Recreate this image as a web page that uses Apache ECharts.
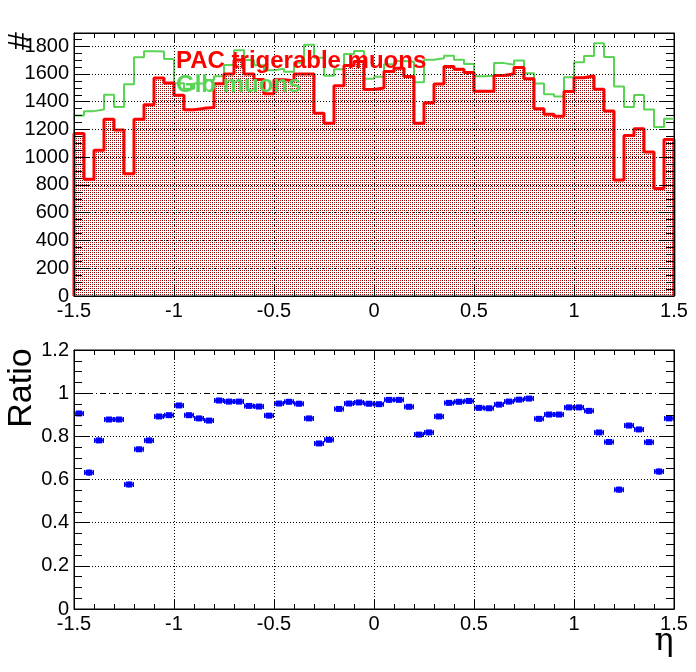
<!DOCTYPE html>
<html><head><meta charset="utf-8">
<script src="https://cdn.jsdelivr.net/npm/echarts@6/dist/echarts.min.js"></script>
<style>html,body{margin:0;padding:0;background:#fff}#c{width:696px;height:672px}</style>
</head><body><div id="c"></div>
<script>
// ---- data ----
const etaRange = [-1.5, 1.5];
const nBins = 60;
const glbMuons = [1300,1332,1344,1450,1362,1525,1720,1764,1761,1708,
                  1533,1494,1531,1557,1584,1665,1770,1700,1663,1626,
                  1638,1616,1681,1811,1717,1587,1634,1744,1766,1565,
                  1580,1670,1693,1688,1540,1703,1713,1731,1702,1671,
                  1584,1587,1678,1666,1697,1605,1532,1454,1437,1577,
                  1684,1729,1822,1722,1510,1361,1448,1343,1217,1277];
const pacMuons = [1170,842,1050,1273,1196,880,1273,1378,1571,1534,
                  1446,1342,1352,1359,1530,1600,1700,1600,1560,1457,
                  1559,1551,1599,1599,1317,1244,1515,1660,1690,1488,
                  1499,1618,1641,1582,1244,1393,1528,1653,1634,1611,
                  1476,1476,1589,1601,1646,1565,1350,1310,1295,1473,
                  1573,1587,1490,1333,835,1157,1205,1038,775,1128];
const ratio = [0.906,0.632,0.781,0.878,0.878,0.577,0.740,0.781,0.892,0.898,
               0.943,0.898,0.883,0.873,0.966,0.961,0.961,0.941,0.938,0.896,
               0.952,0.960,0.951,0.883,0.767,0.784,0.927,0.952,0.957,0.951,
               0.949,0.969,0.969,0.937,0.808,0.818,0.892,0.955,0.960,0.964,
               0.932,0.930,0.947,0.961,0.970,0.975,0.881,0.901,0.901,0.934,
               0.934,0.918,0.818,0.774,0.553,0.850,0.832,0.773,0.637,0.883];
const ratioErr = [0.008,0.013,0.011,0.009,0.009,0.013,0.011,0.010,0.007,0.007,
                  0.006,0.008,0.008,0.008,0.005,0.005,0.005,0.006,0.006,0.008,
                  0.005,0.005,0.005,0.008,0.010,0.010,0.006,0.005,0.005,0.006,
                  0.006,0.004,0.004,0.006,0.010,0.009,0.007,0.005,0.005,0.005,
                  0.006,0.006,0.005,0.005,0.004,0.004,0.008,0.008,0.008,0.006,
                  0.006,0.007,0.009,0.010,0.013,0.010,0.010,0.011,0.014,0.009];
const topYMax = 1895;
const ratioGridLines = [0.2, 0.4, 0.6, 0.8];
const legendLabels = ['PAC trigerable muons', 'Glb muons'];

// ---- build ----
const binW = (etaRange[1] - etaRange[0]) / nBins;
const edges = [];
for (let k = 0; k <= nBins; k++) edges.push(+(etaRange[0] + k * binW).toFixed(4));
function stepData(vals, closed) {
  const d = [];
  if (closed) d.push([edges[0], 0]);
  vals.forEach((v, k) => d.push([edges[k], v]));
  d.push([edges[nBins], vals[nBins - 1]]);
  if (closed) d.push([edges[nBins], 0]);
  return d;
}
const ratioData = ratio.map((r, k) => [(edges[k] + edges[k + 1]) / 2, r, ratioErr[k]]);

function makePattern() {
  const c = document.createElement('canvas');
  c.width = 4; c.height = 4;
  const g = c.getContext('2d');
  g.clearRect(0, 0, 4, 4);
  g.fillStyle = '#ff0000';
  g.fillRect(0, 0, 1, 1);
  g.fillRect(2, 2, 1, 1);
  g.fillStyle = '#202020';
  g.fillRect(2, 0, 1, 1);
  g.fillRect(0, 2, 1, 1);
  return c;
}

const FONT = 'Liberation Sans, Arial, Helvetica, sans-serif';
const dotted = { color: '#000', width: 1, type: [1, 2] };
const GRIDS = [
  { left: 74, right: 22, top: 33, height: 263, show: true, borderColor: '#000', borderWidth: 1 },
  { left: 74, right: 22, top: 350, height: 259, show: true, borderColor: '#000', borderWidth: 1 }
];
function xAx(gi, pos, labels, split) {
  return {
    type: 'value', gridIndex: gi, position: pos, min: etaRange[0], max: etaRange[1], interval: 0.5,
    axisLine: { show: true, onZero: false, lineStyle: { color: '#000', width: 1 } },
    axisTick: { show: true, inside: true, length: 9, lineStyle: { color: '#000' } },
    minorTick: { show: true, splitNumber: 5, length: 5, lineStyle: { color: '#000' } },
    axisLabel: { show: labels, color: '#000', fontSize: 20, fontFamily: FONT, margin: 5,
                 formatter: v => String(+v.toFixed(2)) },
    splitLine: { show: split, lineStyle: dotted },
    z: 10
  };
}
function yAx(gi, pos, max, interval, minorN, labels, split, fmt) {
  return {
    type: 'value', gridIndex: gi, position: pos, min: 0, max: max, interval: interval,
    axisLine: { show: true, onZero: false, lineStyle: { color: '#000', width: 1 } },
    axisTick: { show: true, inside: true, length: 15, lineStyle: { color: '#000' } },
    minorTick: { show: true, splitNumber: minorN, length: 8, lineStyle: { color: '#000' } },
    axisLabel: { show: labels, color: '#000', fontSize: 20, fontFamily: FONT, margin: 5, formatter: fmt,
                 showMaxLabel: true },
    splitLine: { show: split, lineStyle: dotted },
    z: 10
  };
}

const chart = echarts.init(document.getElementById('c'), null, { renderer: 'canvas' });
chart.setOption({
  animation: false,
  backgroundColor: '#fff',
  grid: GRIDS,
  xAxis: [xAx(0, 'bottom', true, true), xAx(0, 'top', false, false),
          xAx(1, 'bottom', true, true), xAx(1, 'top', false, false)],
  yAxis: [
    yAx(0, 'left', topYMax, 200, 4, true, true, v => (Math.abs(v % 200) < 1e-6 ? String(v) : '')),
    yAx(0, 'right', topYMax, 200, 4, false, false),
    yAx(1, 'left', 1.2, 0.2, 4, true, false, v => String(+v.toFixed(2))),
    yAx(1, 'right', 1.2, 0.2, 4, false, false)
  ],
  series: [
    {
      type: 'line', name: legendLabels[1], xAxisIndex: 0, yAxisIndex: 0, step: 'end',
      data: stepData(glbMuons, false), symbol: 'none', clip: false,
      lineStyle: { color: '#59d454', width: 2 }
    },
    {
      type: 'line', name: legendLabels[0], xAxisIndex: 0, yAxisIndex: 0, step: 'end',
      data: stepData(pacMuons, true), symbol: 'none', clip: false,
      lineStyle: { color: '#ff0000', width: 3 },
      areaStyle: { color: { image: makePattern(), repeat: 'repeat' }, opacity: 1 }
    },
    {
      type: 'custom', xAxisIndex: 2, yAxisIndex: 2, data: ratioData, clip: false,
      encode: { x: 0, y: 1 },
      renderItem: function (params, api) {
        const x = api.value(0), y = api.value(1), e = api.value(2);
        const c = api.coord([x, y]);
        const l = api.coord([x - binW / 2, y]), r = api.coord([x + binW / 2, y]);
        const t = api.coord([x, y + e]), b = api.coord([x, y - e]);
        const col = '#0000ff';
        return {
          type: 'group', children: [
            { type: 'line', shape: { x1: l[0], y1: c[1], x2: r[0], y2: c[1] }, style: { stroke: col, lineWidth: 2 } },
            { type: 'line', shape: { x1: l[0] + 0.75, y1: c[1] - 2.5, x2: l[0] + 0.75, y2: c[1] + 2.5 }, style: { stroke: col, lineWidth: 1.5 } },
            { type: 'line', shape: { x1: r[0] - 0.75, y1: c[1] - 2.5, x2: r[0] - 0.75, y2: c[1] + 2.5 }, style: { stroke: col, lineWidth: 1.5 } },
            { type: 'line', shape: { x1: c[0], y1: t[1], x2: c[0], y2: b[1] }, style: { stroke: col, lineWidth: 2 } },
            { type: 'rect', shape: { x: c[0] - 3, y: c[1] - 3, width: 6, height: 6 }, style: { fill: col } }
          ]
        };
      },
      markLine: {
        silent: true, symbol: 'none', label: { show: false },
        data: [
          ...ratioGridLines.map(v => ({ yAxis: v, lineStyle: dotted })),
          { yAxis: 1, lineStyle: { color: '#000', width: 1, type: [6, 3, 1, 3] } }
        ]
      }
    }
  ],
  graphic: [
    { type: 'text', x: 21, y: 41, rotation: Math.PI / 2, z: 100,
      style: { text: '#', font: '32px ' + FONT, fill: '#000', align: 'center', verticalAlign: 'middle' } },
    { type: 'text', x: 176, y: 61, z: 100,
      style: { text: legendLabels[0], font: 'bold 24px ' + FONT, fill: '#ff0000', align: 'left', verticalAlign: 'middle' } },
    { type: 'text', x: 176, y: 85, z: 100,
      style: { text: legendLabels[1], font: 'bold 24px ' + FONT, fill: '#59d454', align: 'left', verticalAlign: 'middle' } },
    { type: 'text', x: 22, y: 388, rotation: Math.PI / 2, z: 100,
      style: { text: 'Ratio', font: '34px ' + FONT, fill: '#000', align: 'center', verticalAlign: 'middle' } },
    { type: 'text', x: 664, y: 642, z: 100,
      style: { text: 'η', font: '32px DejaVu Serif, Liberation Serif, serif', fill: '#000', align: 'center', verticalAlign: 'middle' } }
  ]
});
</script>
</body></html>
